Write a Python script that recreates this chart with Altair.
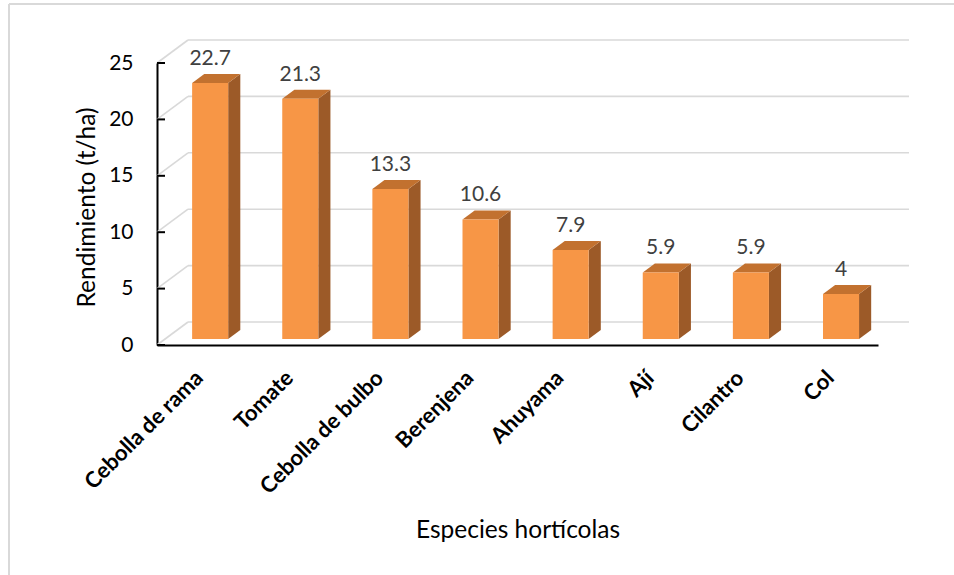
import altair as alt
import pandas as pd

# Yield per horticultural species (t/ha)
especies = ["Cebolla de rama", "Tomate", "Cebolla de bulbo", "Berenjena",
            "Ahuyama", "Ají", "Cilantro", "Col"]
rendimiento = [22.7, 21.3, 13.3, 10.6, 7.9, 5.9, 5.9, 4]
y_ticks = [0, 5, 10, 15, 20, 25]

# ---- layout (pixels) ----
W, H = 721, 282          # plot area
PAD_L, PAD_T = 157, 63
Y_MAX = 25
PX_X = W / len(especies)  # pixels per category
PX_Y = H / Y_MAX          # pixels per t/ha
SLOPE = 23 / 31           # oblique projection of depth (dy/dx)


def depth(z):
    """Shift in data units for a depth of z pixels (vertical)."""
    return (z / SLOPE) / PX_X, z / PX_Y


WALL_Z = 23    # back wall depth
BAR_Z0 = 6     # bar front face depth
BAR_Z1 = 15    # bar back face depth
BAR_W = 0.4    # bar width, in categories

wdx, wdy = depth(WALL_Z)
fdx, fdy = depth(BAR_Z0)
bdx, bdy = depth(BAR_Z1)
ddx, ddy = bdx - fdx, bdy - fdy

front, top, side, labels = [], [], [], []
for i, (name, v) in enumerate(zip(especies, rendimiento)):
    xl = i + 0.5 + fdx - BAR_W / 2
    xr = xl + BAR_W
    base = fdy
    tv = v + fdy
    front.append({"k": name, "x": xl, "x2": xr, "y": base, "y2": tv})
    top += [
        {"k": name, "x": xl, "y": tv, "y2": tv},
        {"k": name, "x": xl + ddx, "y": tv, "y2": tv + ddy},
        {"k": name, "x": xr, "y": tv, "y2": tv + ddy},
        {"k": name, "x": xr + ddx, "y": tv + ddy, "y2": tv + ddy},
    ]
    side += [
        {"k": name, "x": xr, "y": base, "y2": tv},
        {"k": name, "x": xr + ddx, "y": base + ddy, "y2": tv + ddy},
    ]
    labels.append({"k": name, "x": (xl + xr) / 2, "y": tv, "v": v})

# back wall gridlines and left-wall diagonals
grid = []
for t in y_ticks:
    grid += [
        {"g": f"h{t}", "o": 0, "x": wdx, "y": t + wdy},
        {"g": f"h{t}", "o": 1, "x": len(especies) + wdx, "y": t + wdy},
        {"g": f"d{t}", "o": 0, "x": 0, "y": t},
        {"g": f"d{t}", "o": 1, "x": wdx, "y": t + wdy},
    ]
ticks = [{"y": t, "x": 0, "x2": 8 / PX_X} for t in y_ticks]

FONT = "Lato"
names_js = "[" + ",".join(f"'{n}'" for n in especies) + "]"

xs = alt.Scale(domain=[0, len(especies)], nice=False, zero=False)
ys = alt.Scale(domain=[0, Y_MAX], nice=False)

x_axis = alt.Axis(
    values=[i + 0.5 for i in range(len(especies))],
    labelExpr=f"{names_js}[floor(datum.value)]",
    labelAngle=-45, labelAlign="right", labelBaseline="middle",
    labelFont=FONT, labelFontSize=22, labelFontWeight="bold", labelColor="#000000",
    labelPadding=29, labelOffset=-3,
    labelOverlap=False, labelBound=False, labelFlush=False,
    ticks=False, grid=False,
    domainColor="#000000", domainWidth=2,
    title="Especies hortícolas", titleFont=FONT, titleFontSize=24.5,
    titleFontWeight="normal", titleColor="#000000",
    titleX=W / 2, titleY=185, titleBaseline="middle", titleAlign="center",
)
y_axis = alt.Axis(
    values=y_ticks, ticks=False, grid=False,
    labelFont=FONT, labelFontSize=21, labelColor="#000000", labelPadding=24,
    domainColor="#000000", domainWidth=2,
    title="Rendimiento (t/ha)", titleFont=FONT, titleFontSize=24.5,
    titleFontWeight="normal", titleColor="#000000",
    titleX=-70, titleY=H / 2 + 3, titleAngle=-90,
    titleAlign="center", titleBaseline="middle",
)

grid_layer = alt.Chart(pd.DataFrame(grid)).mark_line(
    color="#D9D9D9", strokeWidth=1.6, clip=False
).encode(
    x=alt.X("x:Q", scale=xs, axis=x_axis),
    y=alt.Y("y:Q", scale=ys, axis=y_axis),
    detail="g:N", order="o:Q",
)

tick_layer = alt.Chart(pd.DataFrame(ticks)).mark_rule(
    color="#000000", strokeWidth=2
).encode(x=alt.X("x:Q", scale=xs), x2="x2:Q", y=alt.Y("y:Q", scale=ys))

side_layer = alt.Chart(pd.DataFrame(side)).mark_area(
    color="#9C5A28", opacity=1, clip=False, interpolate="linear"
).encode(
    x=alt.X("x:Q", scale=xs),
    y=alt.Y("y:Q", scale=ys, stack=None), y2="y2:Q",
    detail="k:N",
)

top_layer = alt.Chart(pd.DataFrame(top)).mark_area(
    color="#C2712F", opacity=1, clip=False, interpolate="linear"
).encode(
    x=alt.X("x:Q", scale=xs),
    y=alt.Y("y:Q", scale=ys, stack=None), y2="y2:Q",
    detail="k:N",
)

front_layer = alt.Chart(pd.DataFrame(front)).mark_rect(
    color="#F79646", opacity=1
).encode(
    x=alt.X("x:Q", scale=xs), x2="x2:Q",
    y=alt.Y("y:Q", scale=ys), y2="y2:Q",
)

label_layer = alt.Chart(pd.DataFrame(labels)).mark_text(
    font=FONT, fontSize=21, color="#404040", dy=-24, baseline="middle"
).encode(
    x=alt.X("x:Q", scale=xs), y=alt.Y("y:Q", scale=ys),
    text=alt.Text("v:Q", format="~g"),
)

# outer chart frame (left and top edges)
frame_left = alt.Chart(pd.DataFrame({"a": [0]})).mark_rule(
    color="#D9D9D9", strokeWidth=2, clip=False
).encode(x=alt.value(-148), y=alt.value(-59), y2=alt.value(575 - PAD_T))
frame_top = alt.Chart(pd.DataFrame({"a": [0]})).mark_rule(
    color="#D9D9D9", strokeWidth=2, clip=False
).encode(x=alt.value(-148), x2=alt.value(954 - PAD_L), y=alt.value(-59))

chart = alt.layer(
    grid_layer, tick_layer, side_layer, top_layer, front_layer,
    label_layer, frame_left, frame_top,
).properties(
    width=W, height=H,
    autosize=alt.AutoSizeParams(type="none"),
    padding={"left": PAD_L, "top": PAD_T, "right": 954 - PAD_L - W,
             "bottom": 575 - PAD_T - H},
    background="#FFFFFF",
).configure_view(stroke=None)

chart.save("out.html", embed_options={"renderer": "svg", "actions": False})
